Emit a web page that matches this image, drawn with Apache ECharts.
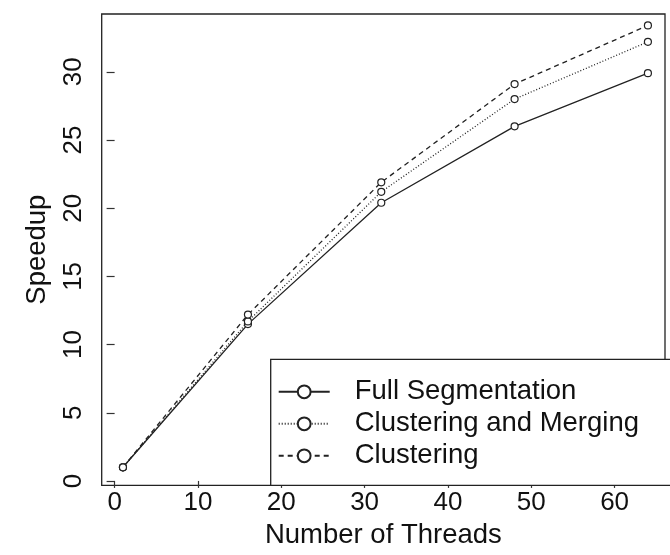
<!DOCTYPE html>
<html>
<head>
<meta charset="utf-8">
<script src="https://cdn.jsdelivr.net/npm/echarts@6/dist/echarts.min.js"></script>
<style>
html, body { margin: 0; padding: 0; background: #fff; }
#chart { width: 670px; height: 555px; }
</style>
</head>
<body>
<div id="chart"></div>
<script>
// number of threads on the x axis
let threads = [1, 16, 32, 48, 64];
// speedup for each variant
let fullSegmentation = [1.0, 11.5, 20.4, 26.0, 29.9];
let clusteringMerging = [1.0, 11.7, 21.2, 28.0, 32.2];
let clustering = [1.0, 12.2, 21.9, 29.1, 33.4];
let seriesNames = ['Full Segmentation', 'Clustering and Merging', 'Clustering'];
let xTicks = [0, 10, 20, 30, 40, 50, 60];
let yTicks = [0, 5, 10, 15, 20, 25, 30];

let font = 'Liberation Sans';
let ink = '#222';

function pairs(ys) {
    return threads.map((t, i) => [t, ys[i]]);
}

function makeSeries(name, ys, dash) {
    return {
        name: name,
        type: 'line',
        data: pairs(ys),
        symbol: 'circle',
        symbolSize: 7,
        showSymbol: true,
        itemStyle: { color: '#fff', borderColor: ink, borderWidth: 1.2 },
        lineStyle: { color: ink, width: 1.3, type: dash },
        emphasis: { disabled: true },
        animation: false
    };
}

let chart = echarts.init(document.getElementById('chart'));

let option = {
    backgroundColor: '#fff',
    animation: false,
    grid: {
        left: 101.7, right: 5, top: 14, bottom: 69.7,
        show: true, borderColor: '#222', borderWidth: 1.3, backgroundColor: 'transparent'
    },
    legend: {
        orient: 'vertical',
        left: 270.7,
        top: 359.3,
        padding: [18.5, 80, 15.5, 7],
        itemGap: 4,
        itemWidth: 51,
        itemHeight: 16,
        borderColor: '#222',
        borderWidth: 1.3,
        backgroundColor: '#fff',
        data: seriesNames,
        textStyle: { fontFamily: font, fontSize: 27.5, color: '#111', lineHeight: 24, padding: [0, 0, 0, 20] }
    },
    xAxis: {
        type: 'value',
        min: -1.55,
        max: 66.05,
        name: 'Number of Threads',
        nameLocation: 'middle',
        nameGap: 36,
        nameTextStyle: { fontFamily: font, fontSize: 27.5, color: '#111' },
        axisLine: { show: false },
        splitLine: { show: false },
        axisTick: { show: true, length: 7, lineStyle: { color: '#333', width: 1.2 }, customValues: xTicks },
        axisLabel: { fontFamily: font, fontSize: 26, color: '#111', margin: 5, customValues: xTicks }
    },
    yAxis: {
        type: 'value',
        min: -0.32,
        max: 34.24,
        name: 'Speedup',
        nameLocation: 'middle',
        nameGap: 50,
        nameTextStyle: { fontFamily: font, fontSize: 27.5, color: '#111' },
        axisLine: { show: false },
        splitLine: { show: false },
        axisTick: { show: true, length: 8, lineStyle: { color: '#333', width: 1.2 }, customValues: yTicks },
        axisLabel: { fontFamily: font, fontSize: 26, color: '#111', margin: 15, rotate: 90, customValues: yTicks }
    },
    series: [
        makeSeries(seriesNames[0], fullSegmentation, 'solid'),
        makeSeries(seriesNames[1], clusteringMerging, [1, 2]),
        makeSeries(seriesNames[2], clustering, [5, 4])
    ]
};

chart.setOption(option);
</script>
</body>
</html>
